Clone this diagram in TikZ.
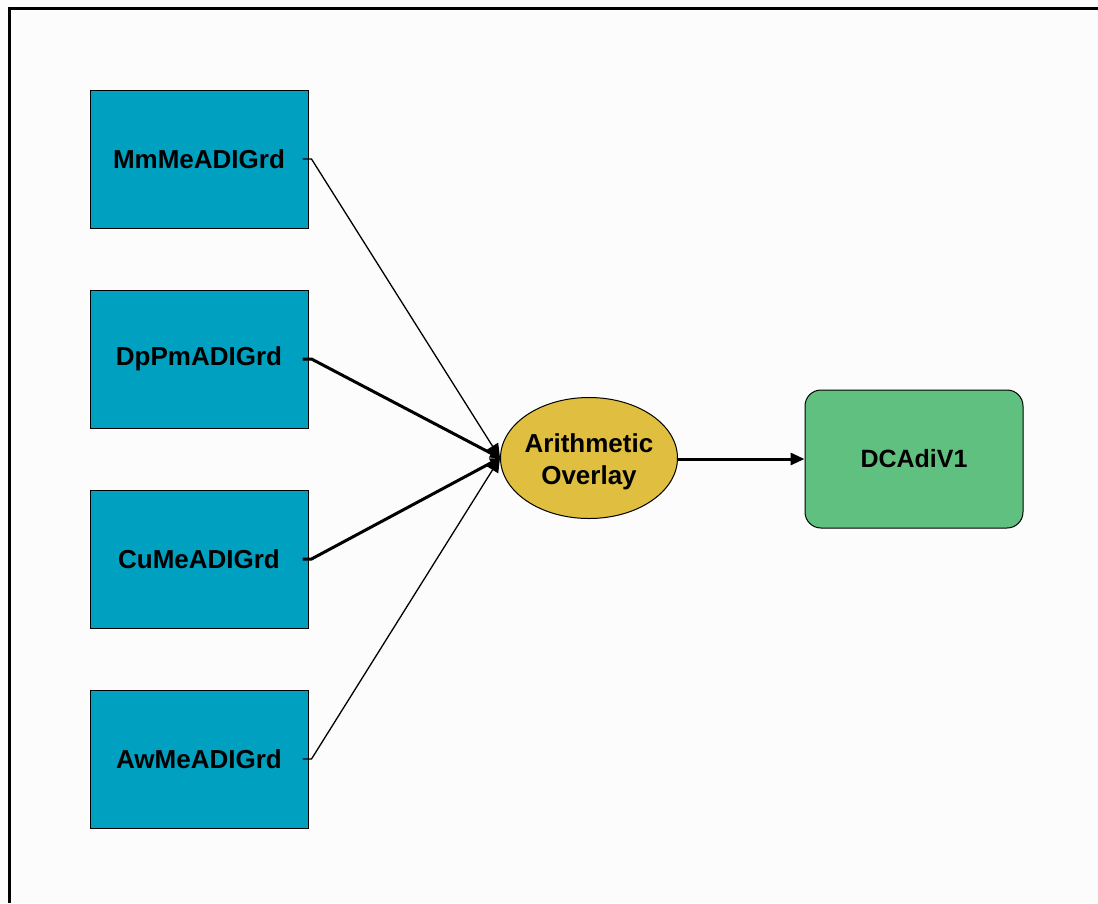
\documentclass[tikz,border=0pt]{standalone}
\usepackage{fontspec}
\setmainfont{Liberation Sans}
\usetikzlibrary{shapes.geometric,arrows.meta}
\definecolor{gridblue}{RGB}{0,160,192}
\definecolor{toolgold}{RGB}{223,190,64}
\definecolor{outgreen}{RGB}{96,192,128}
\tikzset{
  grid/.style={draw=black, line width=1pt, fill=gridblue, minimum width=218pt, minimum height=138pt, inner sep=0pt, font=\bfseries\fontsize{26}{30}\selectfont},
  tool/.style={ellipse, draw=black, line width=1pt, fill=toolgold, minimum width=177pt, minimum height=121pt, inner sep=0pt},
  toollabel/.style={align=center, inner sep=0pt, font=\bfseries\fontsize{26}{32}\selectfont},
  output/.style={draw=black, line width=1pt, fill=outgreen, rounded corners=16pt, minimum width=218pt, minimum height=138pt, inner sep=0pt, font=\bfseries\fontsize{25}{30}\selectfont},
  thinlink/.style={line width=1.3pt, -{Triangle[length=14pt,width=13pt]}},
  thicklink/.style={line width=3pt, -{Triangle[length=10pt,width=9pt]}},
}
\begin{document}
\begin{tikzpicture}[x=1pt,y=-1pt]
  \useasboundingbox (0,0) rectangle (1098,903);
  \fill[white!99!black] (0,0) rectangle (1098,903);
  % window frame (top and left edges)
  \draw[line width=3pt] (9.5,903) -- (9.5,8.5) -- (1098,8.5);

  \node[grid] (mm) at (199,159) {MmMeADIGrd};
  \node[grid] (dp) at (199,359) {DpPmADIGrd};
  \node[grid] (cu) at (199,559) {CuMeADIGrd};
  \node[grid] (aw) at (199,759) {AwMeADIGrd};

  \node[tool] (ov) at (589,458) {};
  \node[toollabel] (ovtext) at ([yshift=-4pt]ov.center) {Arithmetic\\Overlay};
  \node[output] (dc) at (914,459) {DCAdiV1};

  \draw[thinlink] ([xshift=-6pt]mm.east) -- ([xshift=3pt]mm.east) -- (ov.west);
  \draw[thicklink] ([xshift=-6pt]dp.east) -- ([xshift=3pt]dp.east) -- (ov.west);
  \draw[thicklink] ([xshift=-6pt]cu.east) -- ([xshift=3pt]cu.east) -- (ov.west);
  \draw[thinlink] ([xshift=-6pt]aw.east) -- ([xshift=3pt]aw.east) -- (ov.west);

  \draw[line width=3pt, -{Triangle[length=14pt,width=12pt]}] (ov.east |- dc.west) -- (dc.west);
\end{tikzpicture}
\end{document}
